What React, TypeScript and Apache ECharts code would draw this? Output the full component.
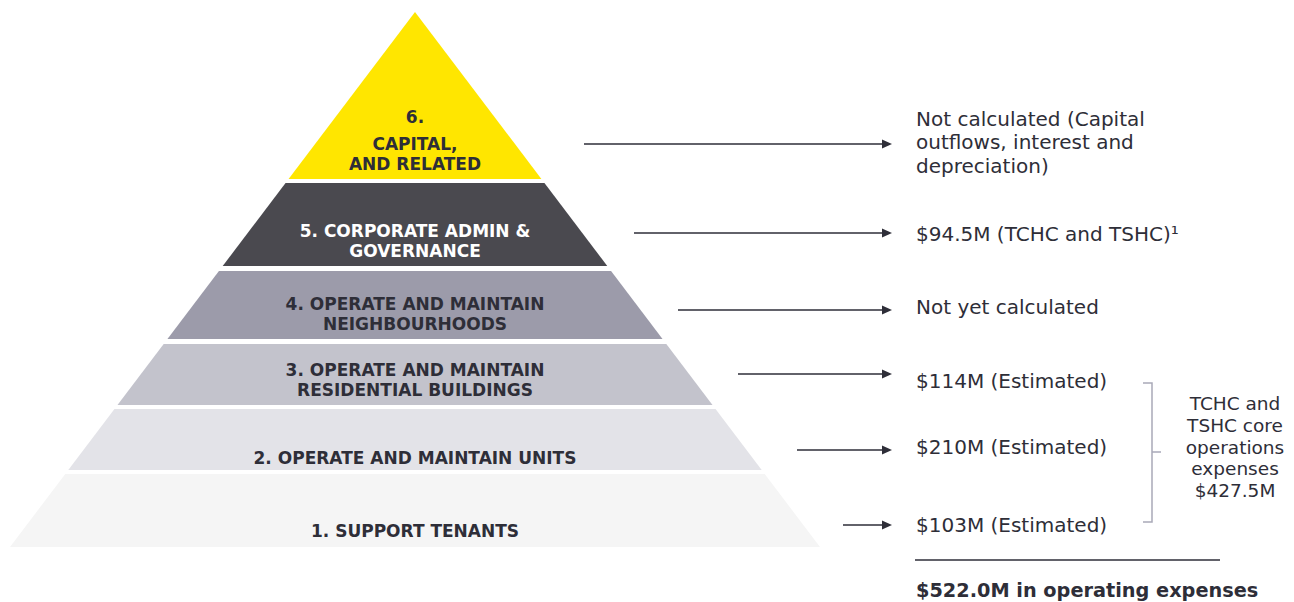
import React, { useEffect, useRef } from "react";
import * as echarts from "echarts";

// ---- data ----
const layerLabels = [
  "1. SUPPORT TENANTS",
  "2. OPERATE AND MAINTAIN UNITS",
  "3. OPERATE AND MAINTAIN\nRESIDENTIAL BUILDINGS",
  "4. OPERATE AND MAINTAIN\nNEIGHBOURHOODS",
  "5. CORPORATE ADMIN &\nGOVERNANCE",
  "{n|6.}\n{t|CAPITAL,}\n{t|AND RELATED}",
];
// layer extent along the pyramid height (0 = base, apexLevel = tip)
const layerBottom = [0, 77, 142, 208, 281, 368];
const layerTop = [73, 138, 203, 276, 364, 535];
const apexLevel = 535;

const costLabels = [
  "$103M (Estimated)",
  "$210M (Estimated)",
  "$114M (Estimated)",
  "Not yet calculated",
  "$94.5M (TCHC and TSHC)¹",
  "Not calculated (Capital\noutflows, interest and\ndepreciation)",
];
const coreTotalLabel = "TCHC and\nTSHC core\noperations\nexpenses\n$427.5M";
const grandTotalLabel = "$522.0M in operating expenses";

// ---- styles / layout ----
const layerColors = ["#F5F5F5", "#E3E3E8", "#C3C3CC", "#9C9BAA", "#4A494F", "#FFE600"];
const labelColors = ["#2E2E38", "#2E2E38", "#2E2E38", "#2E2E38", "#FFFFFF", "#2E2E38"];
const labelBottomPad = [6, 2, 5, 5, 5, 5];
const arrowY = [525, 450, 374, 310, 233, 144];
const arrowStartX = [843, 797, 738, 678, 634, 584];
const arrowTipX = 892;
const costLabelY = [525, 447, 381, 307, 234, 142];
const DARK = "#2E2E38";
const FONT = "'DejaVu Sans', sans-serif";

export default function App() {
  const ref = useRef<HTMLDivElement>(null);
  useEffect(() => {
    document.body.style.margin = "0";
    const chart = echarts.init(ref.current!, undefined, { renderer: "svg" });

    const graphics: any[] = [];
    arrowY.forEach((y, i) => {
      graphics.push({
        type: "line",
        shape: { x1: arrowStartX[i], y1: y, x2: arrowTipX - 8, y2: y },
        style: { stroke: DARK, lineWidth: 1.6 },
      });
      graphics.push({
        type: "polygon",
        shape: { points: [[arrowTipX - 10, y - 4.5], [arrowTipX, y], [arrowTipX - 10, y + 4.5]] },
        style: { fill: DARK },
      });
      graphics.push({
        type: "text",
        x: 916,
        y: costLabelY[i],
        style: {
          text: costLabels[i],
          fill: DARK,
          font: `400 20px ${FONT}`,
          lineHeight: 23.5,
          align: "left",
          verticalAlign: "middle",
        },
      });
    });
    graphics.push({
      type: "polyline",
      shape: { points: [[1143, 383], [1152, 383], [1152, 522], [1143, 522]] },
      style: { stroke: "#A9A9B8", lineWidth: 1.5, fill: null },
    });
    graphics.push({
      type: "line",
      shape: { x1: 1152, y1: 452, x2: 1161, y2: 452 },
      style: { stroke: "#A9A9B8", lineWidth: 1.5 },
    });
    graphics.push({
      type: "text",
      x: 1235,
      y: 447,
      style: {
        text: coreTotalLabel,
        fill: DARK,
        font: `400 18.5px ${FONT}`,
        lineHeight: 21.7,
        align: "center",
        verticalAlign: "middle",
      },
    });
    graphics.push({
      type: "line",
      shape: { x1: 915, y1: 560, x2: 1220, y2: 560 },
      style: { stroke: DARK, lineWidth: 1.6 },
    });
    graphics.push({
      type: "text",
      x: 916,
      y: 590,
      style: {
        text: grandTotalLabel,
        fill: DARK,
        font: `700 19.3px ${FONT}`,
        align: "left",
        verticalAlign: "middle",
      },
    });

    chart.setOption({
      animation: false,
      grid: { left: 10, width: 810, top: 12, height: 535 },
      xAxis: { type: "value", min: -1, max: 1, show: false },
      yAxis: { type: "value", min: 0, max: apexLevel, show: false },
      series: [
        {
          type: "custom",
          coordinateSystem: "cartesian2d",
          data: layerBottom.map((b, i) => [b, layerTop[i], i]),
          encode: { y: [0, 1] },
          renderItem: (params: any, api: any) => {
            const b = api.value(0);
            const t = api.value(1);
            const i = api.value(2);
            const hwB = 1 - b / apexLevel;
            const hwT = 1 - t / apexLevel;
            const p1 = api.coord([-hwB, b]);
            const p2 = api.coord([hwB, b]);
            const p3 = api.coord([hwT, t]);
            const p4 = api.coord([-hwT, t]);
            return {
              type: "group",
              children: [
                {
                  type: "polygon",
                  shape: { points: [p1, p2, p3, p4] },
                  style: { fill: layerColors[i] },
                },
                {
                  type: "text",
                  x: (p1[0] + p2[0]) / 2,
                  y: p1[1] - labelBottomPad[i],
                  style: {
                    text: layerLabels[i],
                    fill: labelColors[i],
                    font: `700 17px ${FONT}`,
                    lineHeight: 20,
                    align: "center",
                    verticalAlign: "bottom",
                    rich: {
                      n: { font: `700 17px ${FONT}`, fill: labelColors[i], lineHeight: 34 },
                      t: { font: `700 17px ${FONT}`, fill: labelColors[i], lineHeight: 20 },
                    },
                  },
                },
              ],
            };
          },
        },
      ],
      graphic: { elements: graphics },
    });
    return () => chart.dispose();
  }, []);
  return <div ref={ref} style={{ width: 1294, height: 602 }} />;
}
